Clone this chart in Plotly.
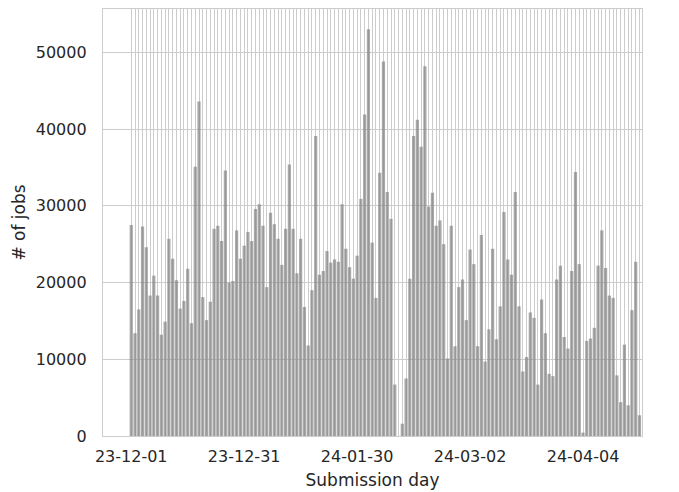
import plotly.graph_objects as go

# Daily job counts (one bar per submission day)
jobs = [
    27500, 13400, 16500, 27300, 24600, 18300, 20900, 18300, 13200, 14900,
    25700, 23100, 20300, 16600, 17600, 21800, 14700, 35100, 43600, 18100,
    15100, 17500, 27000, 27400, 25400, 34600, 20000, 20200, 26800, 23100,
    24800, 26600, 25400, 29600, 30200, 27400, 19400, 29100, 27600, 25700,
    22300, 27000, 35400, 27000, 21200, 25700, 16800, 11800, 19000, 39100,
    21000, 21500, 24100, 22600, 23000, 22700, 30200, 24400, 22000, 20500,
    23500, 30900, 41900, 53000, 25200, 18000, 34300, 48800, 31800, 28300,
    6700, 0, 1600, 7500, 20500, 39100, 41200, 37700, 48200, 29900,
    31700, 27400, 28100, 25000, 10100, 27400, 11700, 19400, 20400, 15100,
    24300, 22400, 11700, 26200, 9700, 13900, 24400, 12600, 16900, 29200,
    23000, 21000, 31800, 16900, 8400, 10300, 16100, 15400, 6700, 17800,
    13400, 8100, 7800, 20400, 22200, 12900, 11400, 21500, 34400, 22400,
    440, 12400, 12700, 14100, 22200, 26800, 21900, 18300, 18000, 7900,
    4400, 11900, 4000, 16400, 22700, 2700,
]

# Labels shown on every 30th day
tick_labels = ["23-12-01", "23-12-31", "24-01-30", "24-03-02", "24-04-04"]
label_every = 30

y_ticks = [0, 10000, 20000, 30000, 40000, 50000]

days = list(range(len(jobs)))
ticktext = [
    tick_labels[i // label_every] if i % label_every == 0 and i // label_every < len(tick_labels) else ""
    for i in days
]

font_color = "#262626"
grid_color = "#cccccc"

fig = go.Figure(
    go.Bar(
        x=days,
        y=jobs,
        width=0.85,
        marker=dict(color="rgba(128,128,128,0.68)", line=dict(width=0)),
        hoverinfo="x+y",
    )
)

fig.update_layout(
    width=679,
    height=492,
    margin=dict(l=103, r=37, t=9, b=56, autoexpand=False),
    paper_bgcolor="white",
    plot_bgcolor="white",
    font=dict(family="DejaVu Sans", color=font_color, size=16),
    showlegend=False,
    xaxis=dict(
        title=dict(text="Submission day", font=dict(size=17), standoff=8),
        automargin=False,
        tickmode="array",
        tickvals=days,
        ticktext=ticktext,
        tickangle=0,
        range=[-7.5, len(jobs) - 0.33],
        showgrid=True,
        gridcolor=grid_color,
        gridwidth=1,
        ticks="",
        showline=True,
        mirror=True,
        linecolor=grid_color,
        linewidth=1.3,
        zeroline=False,
        ticklabelstandoff=6,
    ),
    yaxis=dict(
        title=dict(text="# of jobs", font=dict(size=17), standoff=5),
        automargin=False,
        tickmode="array",
        tickvals=y_ticks,
        ticktext=[str(v) for v in y_ticks],
        range=[0, 55650],
        showgrid=True,
        gridcolor=grid_color,
        gridwidth=1.3,
        ticks="",
        showline=True,
        mirror=True,
        linecolor=grid_color,
        linewidth=1.3,
        zeroline=False,
        ticklabelstandoff=12,
    ),
)

fig.write_html(
    "out.html",
    config={"displayModeBar": False},
    post_script="document.body.style.margin='0';document.body.style.overflow='hidden';",
)
